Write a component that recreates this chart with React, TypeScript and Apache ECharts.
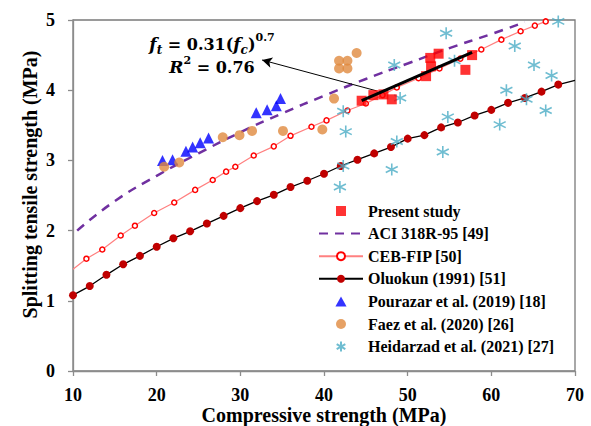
import React, { useEffect, useRef } from "react";
import * as echarts from "echarts";

// ---- data ----
const presentStudy: number[][] = [
  [44.5, 3.85], [45.9, 3.93], [47.1, 3.94], [48.1, 3.87], [52.2, 4.2],
  [52.8, 4.34], [52.7, 4.46], [53.7, 4.52], [56.9, 4.29], [57.7, 4.5],
];
const aciCurve: number[][] = [
  [10.5, 2.0], [15, 2.42], [20, 2.78], [25, 3.1], [30, 3.4], [35, 3.67],
  [40, 3.92], [45, 4.16], [50, 4.38], [55, 4.6], [60, 4.8], [64, 4.97],
];
const cebFip: number[][] = [
  [10, 1.45], [11.6, 1.6], [13.5, 1.73], [15.7, 1.93], [17.4, 2.07], [19.7, 2.25],
  [22.1, 2.4], [24.6, 2.58], [26.7, 2.72], [28.3, 2.84], [29.4, 2.91], [31.6, 3.07],
  [34.0, 3.2], [36.0, 3.35], [38.5, 3.48], [40.3, 3.57], [42.8, 3.71], [45.0, 3.81],
  [47.0, 3.93], [48.7, 4.04], [51.3, 4.17], [53.8, 4.31], [56.3, 4.45], [58.8, 4.58],
  [61.2, 4.72], [63.5, 4.84], [65.2, 4.92], [66.5, 4.98],
];
const oluokun: number[][] = [
  [10, 1.08], [12, 1.21], [14, 1.37], [16, 1.52], [18, 1.64], [20, 1.77], [22, 1.89],
  [24, 1.99], [26, 2.1], [28, 2.21], [30, 2.32], [32, 2.42], [34, 2.51], [36, 2.62],
  [38, 2.71], [40, 2.81], [42, 2.92], [44, 3.01], [46, 3.1], [48, 3.19], [50, 3.31],
  [52, 3.36], [54, 3.47], [56, 3.54], [58, 3.64], [60, 3.72], [62, 3.82], [64, 3.89],
  [66, 3.98], [68, 4.08], [70, 4.14],
];
const pourazar: number[][] = [
  [20.7, 3.0], [21.9, 3.01], [23.5, 3.13], [24.3, 3.19], [25.2, 3.25], [26.2, 3.32],
  [31.9, 3.68], [33.2, 3.72], [34.3, 3.78], [34.8, 3.88],
];
const faez: number[][] = [
  [20.9, 2.91], [22.7, 2.97], [27.9, 3.33], [29.9, 3.36], [31.4, 3.42], [35.1, 3.42],
  [39.8, 3.44], [41.2, 3.88], [41.8, 4.42], [42.8, 4.42], [41.8, 4.31], [42.8, 4.31],
  [43.9, 4.53],
];
const heidarzad: number[][] = [
  [41.9, 2.62], [42.3, 2.92], [42.6, 3.41], [42.3, 3.7], [48.1, 2.87], [48.7, 3.27],
  [49.1, 3.89], [48.4, 4.36], [54.2, 3.12], [54.8, 3.62], [55.6, 4.42], [54.6, 4.81],
  [61.0, 3.51], [61.8, 4.0], [62.8, 4.63], [64.2, 3.87], [65.1, 4.36], [66.5, 3.71],
  [67.2, 4.21], [68.0, 4.98],
];
const fitLine: number[][] = [[44.5, 3.85], [57.7, 4.54]];
const arrowFrom = [46.3, 3.99];
const arrowTo = [32.6, 4.43];

const seriesNames = [
  "Present study",
  "ACI 318R-95 [49]",
  "CEB-FIP [50]",
  "Oluokun (1991) [51]",
  "Pourazar et al. (2019) [18]",
  "Faez et al. (2020) [26]",
  "Heidarzad et al. (2021) [27]",
];

const SERIF = "'Liberation Serif', 'Times New Roman', serif";
const MATH = "'DejaVu Serif', serif";
const ASTERISK = "path://M5,0 L5,10 M0.67,2.5 L9.33,7.5 M0.67,7.5 L9.33,2.5";
const SQUARE = "path://M0,0 L10,0 L10,10 L0,10 Z";
const TRIANGLE = "path://M5,0 L10,9 L0,9 Z";
const DOT = "path://M0,5 A5,5 0 1,1 10,5 A5,5 0 1,1 0,5 Z";

export default function App() {
  const ref = useRef<HTMLDivElement>(null);
  useEffect(() => {
    if (!ref.current) return;
    const chart = echarts.init(ref.current, undefined, { renderer: "svg" });
    const axisLine = { show: true, lineStyle: { color: "#8c8c8c", width: 1.3 } };
    const tick = { show: true, inside: false, length: 5, lineStyle: { color: "#8c8c8c", width: 1.3 } };
    const tickLabel = { fontFamily: SERIF, fontWeight: "bold" as const, fontSize: 18, color: "#000" };
    const nameStyle = { fontFamily: SERIF, fontWeight: "bold" as const, fontSize: 20, color: "#000" };
    const cebData = cebFip.map((p, i) => (i === 0 ? { value: p, symbol: "none" } : p));
    const oluData = oluokun.map((p, i) => (i === oluokun.length - 1 ? { value: p, symbol: "none" } : p));
    const mathI = { fontFamily: MATH, fontStyle: "italic", fontWeight: "bold", fontSize: 17, lineHeight: 24, verticalAlign: "middle", fill: "#000" };
    const mathN = { fontFamily: MATH, fontWeight: "bold", fontSize: 16, lineHeight: 24, verticalAlign: "middle", fill: "#000" };
    const mathS = { fontFamily: MATH, fontStyle: "italic", fontWeight: "bold", fontSize: 12, lineHeight: 24, verticalAlign: "bottom", fill: "#000" };
    const mathP = { fontFamily: MATH, fontWeight: "bold", fontSize: 11, lineHeight: 24, verticalAlign: "top", fill: "#000" };

    const legendIcons: Record<string, string | undefined> = {
      "Present study": SQUARE,
      "Pourazar et al. (2019) [18]": TRIANGLE,
      "Faez et al. (2020) [26]": DOT,
      "Heidarzad et al. (2021) [27]": ASTERISK,
    };

    chart.setOption({
      animation: false,
      backgroundColor: "#fff",
      grid: {
        left: 73, right: 16, top: 20, bottom: 55,
        outerBoundsMode: "none", containLabel: false,
        show: true, borderColor: "#7a7a7a", borderWidth: 1.3, backgroundColor: "transparent",
      },
      xAxis: {
        type: "value", min: 10, max: 70, interval: 10,
        name: "Compressive strength (MPa)", nameLocation: "middle", nameGap: 34,
        nameMoveOverlap: false,
        nameTextStyle: { ...nameStyle, lineHeight: 20 },
        axisLine, axisTick: tick,
        axisLabel: { ...tickLabel, margin: 15 },
        splitLine: { show: false },
      },
      yAxis: {
        type: "value", min: 0, max: 5, interval: 1,
        name: "Splitting tensile strength (MPa)", nameLocation: "middle", nameGap: 33,
        nameMoveOverlap: false,
        nameTextStyle: { ...nameStyle, padding: [0, 0, 0, 22] },
        axisLine, axisTick: tick,
        axisLabel: { ...tickLabel, margin: 18 },
        splitLine: { show: false },
      },
      legend: {
        orient: "vertical", left: 318, top: 203, padding: 0,
        itemWidth: 44, itemHeight: 10, itemGap: 6.6,
        symbolKeepAspect: true,
        data: seriesNames.map((n) => (legendIcons[n] ? { name: n, icon: legendIcons[n] } : { name: n })),
        textStyle: { fontFamily: SERIF, fontWeight: "bold", fontSize: 16, color: "#000" },
      },
      graphic: [
        {
          type: "text", x: 212, y: 44,
          style: {
            text: "{i|f}{s|t}{n| = 0.31(}{i|f}{s|c}{n|)}{p|0.7}",
            align: "center", verticalAlign: "middle",
            rich: { i: mathI, n: mathN, s: mathS, p: mathP },
          },
        },
        {
          type: "text", x: 212, y: 67,
          style: {
            text: "{i|R}{p|2}{n| = 0.76}",
            align: "center", verticalAlign: "middle",
            rich: { i: mathI, n: mathN, p: mathP },
          },
        },
      ],
      series: [
        {
          name: "ACI 318R-95 [49]", type: "line", data: aciCurve, smooth: true,
          showSymbol: false, symbol: "circle", symbolSize: 0, z: 2,
          lineStyle: { color: "#7030a0", width: 2.5, type: [9, 7] },
          itemStyle: { color: "rgba(0,0,0,0)" },
        },
        {
          name: "CEB-FIP [50]", type: "line", data: cebData,
          symbol: "circle", symbolSize: 5, z: 3,
          lineStyle: { color: "#ff8080", width: 1.2 },
          itemStyle: { color: "#fff", borderColor: "#ff0000", borderWidth: 1.5 },
        },
        {
          name: "Oluokun (1991) [51]", type: "line", data: oluData,
          symbol: "circle", symbolSize: 8, z: 3,
          lineStyle: { color: "#000", width: 1.3 },
          itemStyle: { color: "#c00000" },
        },
        {
          name: "Pourazar et al. (2019) [18]", type: "scatter", data: pourazar,
          symbol: "triangle", symbolSize: 11, z: 4,
          itemStyle: { color: "#0000ff" },
        },
        {
          name: "Faez et al. (2020) [26]", type: "scatter", data: faez,
          symbol: "circle", symbolSize: 10, z: 4,
          itemStyle: { color: "#e0893f" },
        },
        {
          name: "Heidarzad et al. (2021) [27]", type: "scatter", data: heidarzad,
          symbol: ASTERISK, symbolSize: 12, z: 4,
          itemStyle: { color: "rgba(0,0,0,0)", borderColor: "#4bacc6", borderWidth: 1.6 },
        },
        {
          name: "Present study", type: "scatter", data: presentStudy,
          symbol: "rect", symbolSize: 10, z: 5,
          itemStyle: { color: "#ff0000" },
        },
        {
          name: "fit", type: "line", data: fitLine, symbol: "none", z: 6,
          lineStyle: { color: "#000", width: 3 },
          markLine: {
            silent: true, symbol: ["none", "arrow"], symbolSize: [8, 10],
            label: { show: false },
            lineStyle: { color: "#000", width: 1, type: "solid" },
            data: [[{ coord: arrowFrom }, { coord: arrowTo }]],
          },
        },
      ],
    });
    return () => chart.dispose();
  }, []);
  return (
    <div
      ref={ref}
      style={{ position: "absolute", left: 0, top: 0, width: 591, height: 426 }}
    />
  );
}
